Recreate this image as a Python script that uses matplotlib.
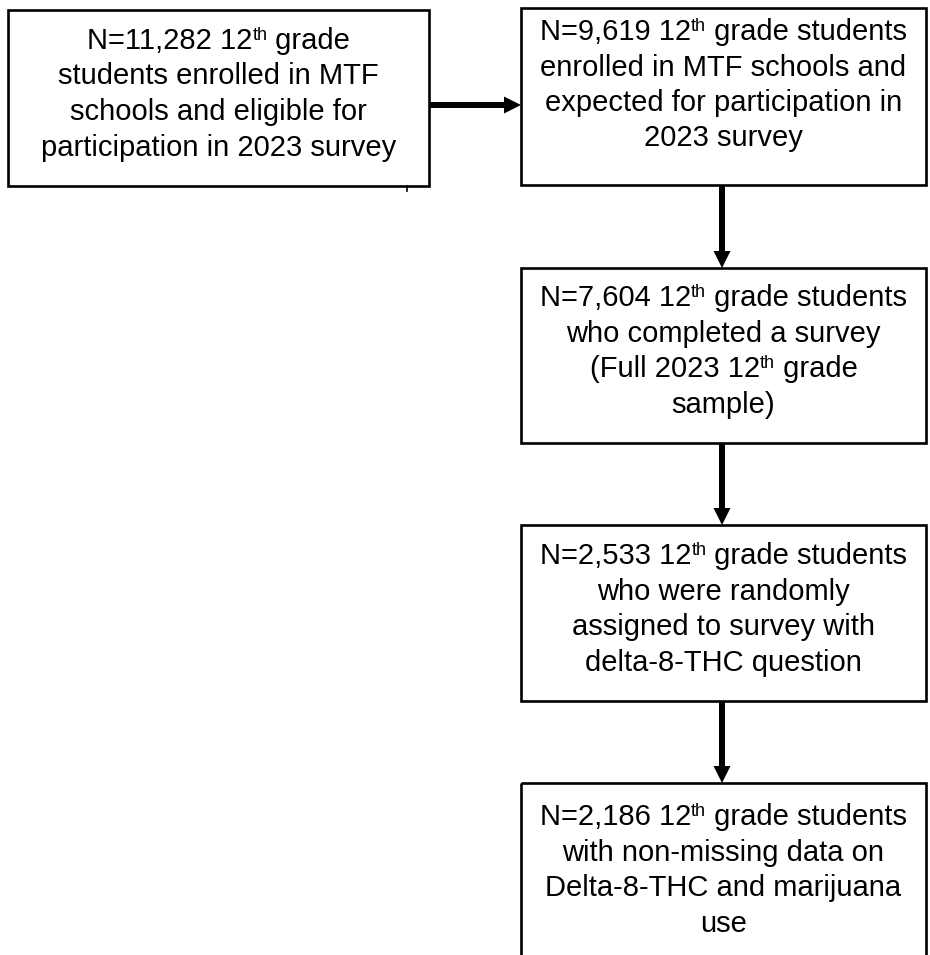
import matplotlib
matplotlib.use("Agg")
import matplotlib.pyplot as plt
from matplotlib.patches import Rectangle, FancyArrow

plt.rcParams["font.family"] = ["Liberation Sans", "DejaVu Sans"]

# flow counts and box texts (lines as in the reference, ^th = superscript)
counts = ["11,282", "9,619", "7,604", "2,533", "2,186"]
box_lines = [
    ["N=@N 12^th grade", "students enrolled in MTF",
     "schools and eligible for", "participation in 2023 survey"],
    ["N=@N 12^th grade students", "enrolled in MTF schools and",
     "expected for participation in", "2023 survey"],
    ["N=@N 12^th grade students", "who completed a survey",
     "(Full 2023 12^th grade", "sample)"],
    ["N=@N 12^th grade students", "who were randomly",
     "assigned to survey with", "delta-8-THC question"],
    ["N=@N 12^th grade students", "with non-missing data on",
     "Delta-8-THC and marijuana", "use"],
]

# box geometry in pixel coords: (x0, y0, x1, y1, first baseline)
boxes = [
    (8, 10, 429, 186, 49),
    (521, 8, 926, 185, 40),
    (521, 268, 926, 443, 306),
    (521, 525, 926, 701, 564),
    (521, 783, 926, 980, 825),
]

W, H = 930, 955
FS = 21
FS_SUP = 13
SUP_RAISE = 9

fig = plt.figure(figsize=(W / 100, H / 100), dpi=100)
ax = fig.add_axes([0, 0, 1, 1])
ax.set_xlim(0, W)
ax.set_ylim(H, 0)
ax.axis("off")
renderer = fig.canvas.get_renderer()


def text_w(s, size):
    # width incl. spaces, measured between two bars
    t = ax.text(0, 0, "|" + s + "|", fontsize=size)
    w1 = t.get_window_extent(renderer).width
    t.remove()
    t = ax.text(0, 0, "||", fontsize=size)
    w2 = t.get_window_extent(renderer).width
    t.remove()
    return w1 - w2


def draw_line(cx, y, line):
    pieces = []
    for i, seg in enumerate(line.split("^th")):
        if i > 0:
            pieces.append(("th", FS_SUP, y - SUP_RAISE))
        if seg:
            pieces.append((seg, FS, y))
    widths = [text_w(s, fs) for s, fs, _ in pieces]
    x = cx - sum(widths) / 2
    for (s, fs, yy), w in zip(pieces, widths):
        ax.text(x, yy, s, ha="left", va="baseline", fontsize=fs, color="black")
        x += w


line_gap = 35.5
for (x0, y0, x1, y1, base), n, lines in zip(boxes, counts, box_lines):
    ax.add_patch(Rectangle((x0, y0), x1 - x0, y1 - y0, fill=False,
                           edgecolor="black", linewidth=1.9))
    cx = (x0 + x1) / 2
    for k, ln in enumerate(lines):
        draw_line(cx, base + k * line_gap, ln.replace("@N", n))

# small tick under the first box
ax.plot([407, 407], [186, 191], color="black", linewidth=1.2)

arrow_kw = dict(width=6, head_width=17, head_length=17,
                length_includes_head=True, color="black", linewidth=0)

# horizontal arrow box1 -> box2
ax.add_patch(FancyArrow(429, 105, 521 - 429, 0, **arrow_kw))

# vertical arrows down the right column
ax_x = 722
for upper, lower in zip(boxes[1:-1], boxes[2:]):
    ax.add_patch(FancyArrow(ax_x, upper[3], 0, lower[1] - upper[3], **arrow_kw))

fig.savefig("out.png", dpi=100)
